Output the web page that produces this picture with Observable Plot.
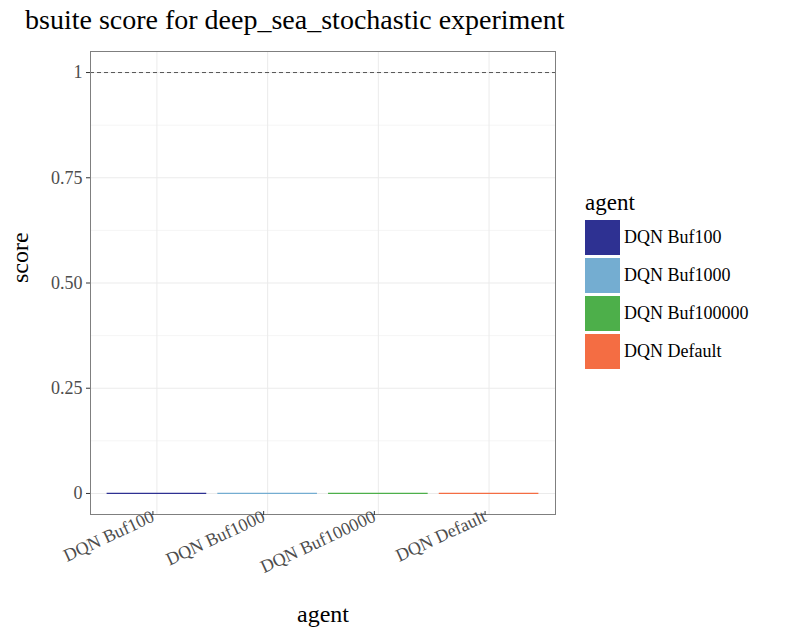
<!DOCTYPE html>
<html><head><meta charset="utf-8">
<script src="https://cdn.jsdelivr.net/npm/d3@7"></script>
<script src="https://cdn.jsdelivr.net/npm/@observablehq/plot@0.6"></script>
<style>
body{margin:0;background:#fff;font-family:"Liberation Serif","DejaVu Serif",serif;}
#wrap{position:relative;width:790px;height:643px;}
#title{position:absolute;left:25px;top:4px;font-size:28px;color:#000;}
#legend{position:absolute;left:585px;top:190px;font-size:18px;}
.lt{font-size:23px;margin-bottom:2px;}
.row{display:flex;align-items:center;height:38px;}
.key{width:35px;height:35px;margin-right:4px;}
</style></head>
<body><div id="wrap"><div id="title">bsuite score for deep_sea_stochastic experiment</div><div id="legend"></div><div id="chart"></div></div>
<script>
const agents = ["DQN Buf100", "DQN Buf1000", "DQN Buf100000", "DQN Default"];
const scores = [0, 0, 0, 0];
const colors = ["#2e3192", "#74add1", "#4daf4a", "#f46d43"];
const yTicks = [0, 0.25, 0.5, 0.75, 1];
const yLabels = ["0", "0.25", "0.50", "0.75", "1"];
const yMinor = [0.125, 0.375, 0.625, 0.875];

const data = agents.map((a, i) => ({agent: a, i: i + 1, score: scores[i]}));

const chart = Plot.plot({
  width: 790, height: 643,
  marginLeft: 90, marginRight: 235, marginTop: 51, marginBottom: 129,
  style: {fontFamily: "Liberation Serif, serif", fontSize: "18px", color: "#4d4d4d", background: "transparent"},
  x: {domain: [0.4, 4.6], axis: null},
  y: {domain: [-0.05, 1.05], axis: null},
  marks: [
    Plot.ruleY(yMinor, {stroke: "#f2f2f2", strokeWidth: 0.8}),
    Plot.ruleY(yTicks, {stroke: "#ebebeb", strokeWidth: 1}),
    Plot.ruleX(data, {x: "i", stroke: "#ebebeb", strokeWidth: 1}),
    Plot.ruleY([1], {stroke: "#555", strokeDasharray: "4,3", strokeWidth: 1}),
    Plot.ruleY(data, {y: "score", x1: d => d.i - 0.45, x2: d => d.i + 0.45, stroke: (d, k) => colors[k], strokeWidth: 1.2}),
    Plot.frame({stroke: "#7f7f7f"}),
    Plot.axisY(yTicks, {tickSize: 4, tickPadding: 4, stroke: "#333", fontSize: 18, fill: "#4d4d4d",
      tickFormat: d => yLabels[yTicks.indexOf(d)], label: null}),
    Plot.axisX(data.map(d => d.i), {tickSize: 4, tickPadding: 0, stroke: "#333", fontSize: 18, fill: "#4d4d4d",
      tickRotate: -25, tickFormat: d => agents[d - 1], label: null, textAnchor: "end", dx: -4, dy: -3}),
    Plot.text(["score"], {frameAnchor: "left", dx: -70, rotate: -90, fontSize: 24, fill: "#000"}),
    Plot.text(["agent"], {frameAnchor: "bottom", dy: 107, fontSize: 24, fill: "#000"})
  ]
});
document.getElementById("chart").append(chart);

const lg = d3.select("#legend");
lg.append("div").attr("class", "lt").text("agent");
agents.forEach((a, i) => {
  const r = lg.append("div").attr("class", "row");
  r.append("div").attr("class", "key").style("background", colors[i]);
  r.append("span").text(a);
});
</script></body></html>
